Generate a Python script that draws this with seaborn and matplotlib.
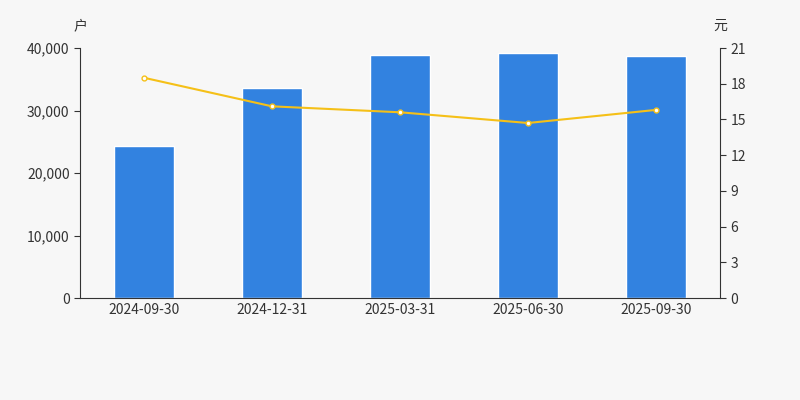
import matplotlib
matplotlib.use("Agg")
import matplotlib.pyplot as plt
import seaborn as sns
import pandas as pd
from matplotlib.ticker import FuncFormatter

dates = ["2024-09-30", "2024-12-31", "2025-03-31", "2025-06-30", "2025-09-30"]
holders = [24300, 33600, 38900, 39200, 38700]
price = [18.5, 16.1, 15.6, 14.7, 15.8]

sns.set_style("white")
plt.rcParams['font.family'] = ['Noto Sans CJK SC', 'DejaVu Sans']
bg = "#f7f7f7"
fig = plt.figure(figsize=(8, 4), dpi=100, facecolor=bg)
ax = fig.add_axes([0.1, 0.255, 0.8, 0.625], facecolor=bg)
df = pd.DataFrame({"d": dates, "h": holders, "p": price})
sns.barplot(data=df, x="d", y="h", color="#3282e0", width=0.47, saturation=1, ax=ax)
ax.set_ylim(0, 40000)
ax.set_yticks(range(0, 40001, 10000))
ax.yaxis.set_major_formatter(FuncFormatter(lambda v, _: f"{int(v):,}"))
ax.set_xlabel(""); ax.set_ylabel("")
ax2 = ax.twinx()
ax2.plot(range(len(dates)), price, color="#f5c018", lw=1.5, marker="o", ms=3.5,
         mfc="white", mec="#f5c018", mew=1)
ax2.set_ylim(0, 21)
ax2.set_yticks(range(0, 22, 3))
ax.set_xlim(-0.5, 4.5)
for a in (ax, ax2):
    for s in a.spines.values():
        s.set_visible(False)
    a.tick_params(colors="#333333", labelsize=10, length=0)
ax.spines["bottom"].set_visible(True); ax.spines["bottom"].set_color("#333333")
ax.spines["left"].set_visible(True); ax.spines["left"].set_color("#333333")
ax2.spines["right"].set_visible(True); ax2.spines["right"].set_color("#333333")
ax.tick_params(axis="y", length=4, color="#333333")
ax2.tick_params(axis="y", length=4, color="#333333")
ax.set_xticks([x + 0.5 for x in range(-1, 5)], minor=True)
ax.tick_params(axis="x", which="minor", length=5, color="#333333")
fig.text(0.1, 0.925, "户", fontsize=10, color="#333333", ha="center")
fig.text(0.9, 0.925, "元", fontsize=10, color="#333333", ha="center")
fig.savefig("out.png", dpi=100, facecolor=bg)
